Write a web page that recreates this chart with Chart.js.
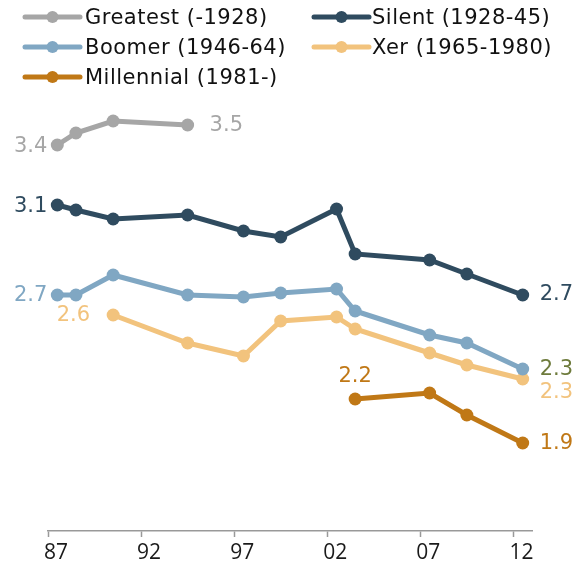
<!DOCTYPE html>
<html>
<head>
<meta charset="utf-8">
<script src="https://cdn.jsdelivr.net/npm/chart.js@4"></script>
<style>
  html, body { margin: 0; padding: 0; background: #fff; }
  #wrap { position: relative; width: 582px; height: 567px; }
</style>
</head>
<body>
<div id="wrap"><canvas id="genChart" width="582" height="567"></canvas></div>
<script>
// survey years and generation averages (null = generation not sampled that year)
const years = [1987, 1988, 1990, 1994, 1997, 1999, 2002, 2003, 2007, 2009, 2012];
const seriesNames = ['Greatest (-1928)', 'Silent (1928-45)', 'Boomer (1946-64)', 'Xer (1965-1980)', 'Millennial (1981-)'];
const greatest   = [3.43, 3.49, 3.55, 3.53, null, null, null, null, null, null, null];
const silent     = [3.13, 3.105, 3.06, 3.08, 3.0, 2.97, 3.11, 2.885, 2.855, 2.785, 2.68];
const boomer     = [2.68, 2.68, 2.78, 2.68, 2.67, 2.69, 2.71, 2.60, 2.48, 2.44, 2.31];
const xer        = [null, null, 2.58, 2.44, 2.375, 2.55, 2.57, 2.51, 2.39, 2.33, 2.26];
const millennial = [null, null, null, null, null, null, null, 2.16, 2.19, 2.08, 1.94];
const tickYears  = [1987, 1992, 1997, 2002, 2007, 2012];
const tickLabels = ['87', '92', '97', '02', '07', '12'];

const colors = ['#a6a6a6', '#2f4b5f', '#80a7c3', '#f2c37d', '#c07816'];

function toPoints(vals) {
  return years.map((yr, i) => ({ x: yr, y: vals[i] })).filter(p => p.y !== null);
}

const allSeries = [greatest, silent, boomer, xer, millennial];

// end labels: which point, where, and colour override
const endLabels = [
  { ds: 0, at: 'first', dx: -10, dy: 2 },
  { ds: 0, at: 'last',  dx: 22,  dy: 1 },
  { ds: 1, at: 'first', dx: -10, dy: 2 },
  { ds: 1, at: 'last',  dx: 17,  dy: 0 },
  { ds: 2, at: 'first', dx: -10, dy: 1 },
  { ds: 2, at: 'last',  dx: 17,  dy: 1, color: '#6e7b3c' },
  { ds: 3, at: 'first', dx: -23, dy: 1 },
  { ds: 3, at: 'last',  dx: 17,  dy: 14 },
  { ds: 4, at: 'above', dx: 0,   dy: -22 },
  { ds: 4, at: 'last',  dx: 17,  dy: 1 }
];

const valueLabels = {
  id: 'valueLabels',
  afterDatasetsDraw(chart) {
    const ctx = chart.ctx;
    ctx.save();
    ctx.font = '21px "DejaVu Sans"';
    ctx.textBaseline = 'middle';
    endLabels.forEach(l => {
      const meta = chart.getDatasetMeta(l.ds);
      const data = chart.data.datasets[l.ds].data;
      const i = l.at === 'last' ? data.length - 1 : 0;
      const el = meta.data[i];
      ctx.fillStyle = l.color || colors[l.ds];
      ctx.textAlign = l.at === 'first' ? 'right' : (l.at === 'last' ? 'left' : 'center');
      ctx.fillText(data[i].y.toFixed(1), el.x + l.dx, el.y + l.dy);
    });
    ctx.restore();
  }
};

// two-column legend across the top
const topLegend = {
  id: 'topLegend',
  afterDraw(chart) {
    const ctx = chart.ctx;
    const cols = [{ x: 25, tx: 85 }, { x: 314, tx: 372 }];
    const rows = [17, 47, 77];
    ctx.save();
    ctx.font = '21px "DejaVu Sans"';
    ctx.letterSpacing = '0.5px';
    ctx.textBaseline = 'middle';
    ctx.textAlign = 'left';
    chart.data.datasets.forEach((ds, i) => {
      const c = cols[i % 2], y = rows[Math.floor(i / 2)];
      ctx.strokeStyle = ds.borderColor;
      ctx.lineWidth = 5;
      ctx.lineCap = 'round';
      ctx.beginPath();
      ctx.moveTo(c.x, y);
      ctx.lineTo(c.x + 55, y);
      ctx.stroke();
      ctx.fillStyle = ds.borderColor;
      ctx.beginPath();
      ctx.arc(c.x + 27.5, y, 6, 0, Math.PI * 2);
      ctx.fill();
      ctx.fillStyle = '#111';
      ctx.fillText(ds.label, c.tx, y + 1.5);
    });
    ctx.restore();
  }
};

new Chart(document.getElementById('genChart'), {
  type: 'line',
  data: {
    datasets: allSeries.map((vals, i) => ({
      label: seriesNames[i],
      data: toPoints(vals),
      borderColor: colors[i],
      backgroundColor: colors[i],
      borderWidth: 5,
      pointRadius: 6.5,
      pointHoverRadius: 6.5,
      pointBorderWidth: 0,
      tension: 0
    }))
  },
  options: {
    responsive: false,
    animation: false,
    layout: { padding: { left: 48, right: 50, top: 71, bottom: 0 } },
    plugins: { legend: { display: false }, tooltip: { enabled: false } },
    scales: {
      x: {
        type: 'linear',
        min: 1986.5,
        max: 2012.5,
        afterBuildTicks: s => { s.ticks = tickYears.map(v => ({ value: v - 0.5 })); },
        afterFit: s => { s.height = 36; },
        border: { display: true, color: '#999', width: 1.5 },
        grid: { drawOnChartArea: false, drawTicks: true, tickLength: 6, tickColor: '#999', tickWidth: 1.5 },
        ticks: {
          autoSkip: false,
          maxRotation: 0,
          padding: 3,
          labelOffset: 8,
          color: '#1a1a1a',
          font: { family: '"Open Sans"', size: 21 },
          callback: (v, i) => tickLabels[i]
        }
      },
      y: {
        display: false,
        min: 1.5,
        max: 3.8
      }
    }
  },
  plugins: [valueLabels, topLegend]
});
</script>
</body>
</html>
